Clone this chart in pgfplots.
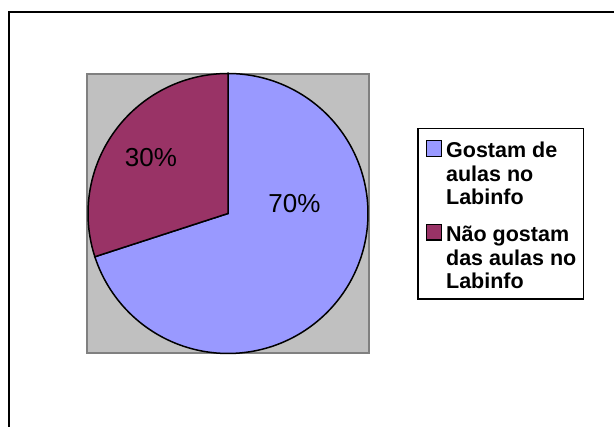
\documentclass[border=0pt]{standalone}
\usepackage{pgfplots}
\pgfplotsset{compat=1.18}
\usepackage{fontspec}
\setmainfont{Liberation Sans}
\definecolor{sliceA}{HTML}{9999FF}
\definecolor{sliceB}{HTML}{993366}
\definecolor{plotbg}{HTML}{C0C0C0}
\definecolor{plotframe}{HTML}{808080}
\begin{document}
\begin{tikzpicture}
\useasboundingbox (0,0) rectangle (614pt,427pt);
% data: percentages
\pgfmathsetmacro\va{70}
\pgfmathsetmacro\vb{30}
\pgfmathsetmacro\cx{228}
\pgfmathsetmacro\cy{213.5}
\pgfmathsetmacro\r{140}
\pgfmathsetmacro\aend{90-3.6*\va}
\pgfmathsetmacro\bend{\aend-3.6*\vb}
\begin{axis}[at={(0,0)}, anchor=south west, scale only axis,
  width=614pt, height=427pt, xmin=0, xmax=614, ymin=0, ymax=427,
  hide axis, clip=false, legend cell align=left,
  legend image code/.code={%
    \path (0pt,25.5pt);
    \draw[#1, line width=1.3pt] (0.7pt,1.8pt) rectangle (16pt,17.3pt);},
  legend style={at={(axis cs:417,299)}, anchor=north west, draw=black,
    line width=1.5pt, inner xsep=7pt, inner ysep=3pt, row sep=3.6pt,
    column sep=4pt,
    font=\fontsize{21.5}{23.5}\selectfont\bfseries,
    nodes={inner sep=0pt, text depth=, text height=, anchor=base west}},
]
% outer frame (top and left edges)
\addplot[black, line width=2pt, forget plot] coordinates {(9,0) (9,415) (614,415)};
% plot area
\addplot[fill=plotbg, draw=plotframe, line width=2pt, forget plot]
  coordinates {(87,74) (369,74) (369,353) (87,353)} -- cycle;
% slices
\addplot[fill=sliceA, draw=black, line width=1.5pt, domain=90:\aend, samples=200, variable=\t]
  ({\cx+\r*cos(\t)},{\cy+\r*sin(\t)}) -- (axis cs:\cx,\cy) -- cycle;
\addlegendentry{\begin{tabular}[t]{@{}l@{}}Gostam de\\aulas no\\Labinfo\end{tabular}}
\addplot[fill=sliceB, draw=black, line width=1.5pt, domain=\aend:\bend, samples=100, variable=\t]
  ({\cx+\r*cos(\t)},{\cy+\r*sin(\t)}) -- (axis cs:\cx,\cy) -- cycle;
\addlegendentry{\begin{tabular}[t]{@{}l@{}}Não gostam\\das aulas no\\Labinfo\end{tabular}}
\node[font=\fontsize{26}{30}\selectfont] at (axis cs:294.5,223) {70\%};
\node[font=\fontsize{26}{30}\selectfont] at (axis cs:151,269.5) {30\%};
\end{axis}
\end{tikzpicture}
\end{document}
